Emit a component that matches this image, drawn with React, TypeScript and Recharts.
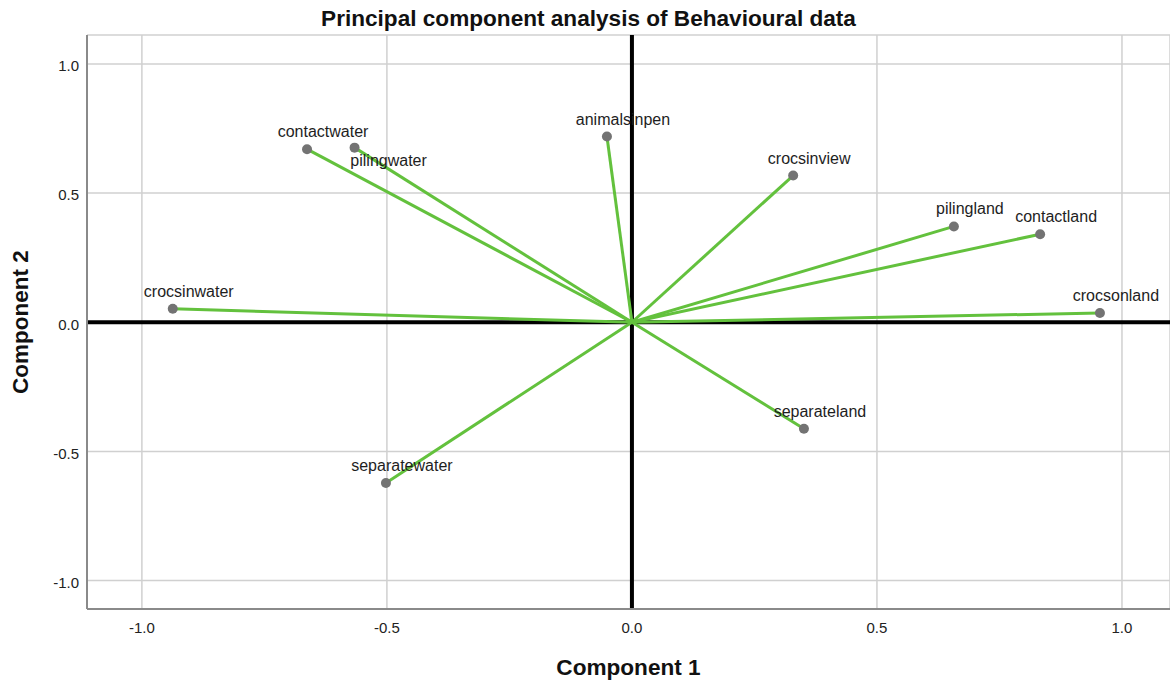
import React from "react";
import {
  ScatterChart,
  Scatter,
  XAxis,
  YAxis,
  CartesianGrid,
  ReferenceLine,
  Label,
} from "recharts";

// loadings on the first two components
const variables = [
  "contactwater",
  "pilingwater",
  "animalsinpen",
  "crocsinview",
  "pilingland",
  "contactland",
  "crocsonland",
  "crocsinwater",
  "separateland",
  "separatewater",
];
const component1 = [-0.663, -0.566, -0.051, 0.329, 0.657, 0.833, 0.955, -0.937, 0.351, -0.502];
const component2 = [0.67, 0.676, 0.719, 0.568, 0.371, 0.341, 0.036, 0.052, -0.412, -0.622];

const axisTicks = [-1, -0.5, 0, 0.5, 1];

const FONT = '"Liberation Sans", Arial, sans-serif';
const GREEN = "#63c13d";

// each variable is drawn as a segment from the origin to its loading
const vectors = variables.map((name, i) => ({
  name,
  data: [
    { x: 0, y: 0, name: "" },
    { x: component1[i], y: component2[i], name },
  ],
}));

// label placement next to the point; pilingwater sits below to avoid contactwater
const labelOffset: Record<string, [number, number]> = {
  pilingwater: [34, 18],
};

const LoadingPoint = (props: any) => {
  const { cx, cy, payload } = props;
  if (!payload || !payload.name) return <g />;
  const [dx, dy] = labelOffset[payload.name] || [16, -12];
  return (
    <g>
      <circle cx={cx} cy={cy} r={5} fill="#737373" />
      <text
        x={cx + dx}
        y={cy + dy}
        textAnchor="middle"
        fontFamily={FONT}
        fontSize={16}
        fill="#1e1e1e"
      >
        {payload.name}
      </text>
    </g>
  );
};

const YTitle = (props: any) => {
  const { viewBox } = props;
  const cy = viewBox.y + viewBox.height / 2;
  const x = 28;
  return (
    <text
      x={x}
      y={cy}
      transform={`rotate(-90 ${x} ${cy})`}
      textAnchor="middle"
      fontFamily={FONT}
      fontSize={22.5}
      fontWeight="bold"
      fill="#111"
    >
      Component 2
    </text>
  );
};

const fmt = (v: number) => v.toFixed(1);

export default function App() {
  return (
    <div style={{ position: "absolute", left: 0, top: 0, width: 1170, height: 681, background: "#fff" }}>
      <div
        style={{
          position: "absolute",
          left: 0,
          top: 8,
          width: 1177,
          textAlign: "center",
          fontFamily: FONT,
          fontSize: 22.6,
          fontWeight: "bold",
          lineHeight: "22px",
          color: "#111",
        }}
      >
        Principal component analysis of Behavioural data
      </div>
      <ScatterChart width={1170} height={681} margin={{ top: 35, right: 0, bottom: 0, left: 0 }}>
        <CartesianGrid stroke="#d0d0d0" strokeWidth={1.5} />
        <XAxis
          type="number"
          dataKey="x"
          domain={[-1.112, 1.098]}
          allowDataOverflow
          ticks={axisTicks}
          tickFormatter={fmt}
          height={72}
          tickLine={false}
          tickSize={0}
          tickMargin={13}
          axisLine={{ stroke: "#8a8a8a", strokeWidth: 2 }}
          tick={{ fill: "#222", fontSize: 15, fontFamily: FONT }}
        >
          <Label
            value="Component 1"
            position="insideBottom"
            offset={6}
            fill="#111"
            fontSize={22.6}
            fontWeight="bold"
            fontFamily={FONT}
          />
        </XAxis>
        <YAxis
          type="number"
          dataKey="y"
          domain={[-1.11, 1.112]}
          allowDataOverflow
          ticks={axisTicks}
          tickFormatter={fmt}
          width={87}
          tickLine={false}
          tickSize={0}
          tickMargin={8}
          axisLine={{ stroke: "#8a8a8a", strokeWidth: 2 }}
          tick={{ fill: "#222", fontSize: 15, fontFamily: FONT, dy: 2 }}
        >
          <Label content={<YTitle />} />
        </YAxis>
        <ReferenceLine x={0} stroke="#000" strokeWidth={4} />
        <ReferenceLine y={0} stroke="#000" strokeWidth={4} />
        {vectors.map((v) => (
          <Scatter
            key={v.name}
            name={v.name}
            data={v.data}
            line={{ stroke: GREEN, strokeWidth: 3 }}
            lineType="joint"
            shape={<LoadingPoint />}
            isAnimationActive={false}
          />
        ))}
      </ScatterChart>
    </div>
  );
}
